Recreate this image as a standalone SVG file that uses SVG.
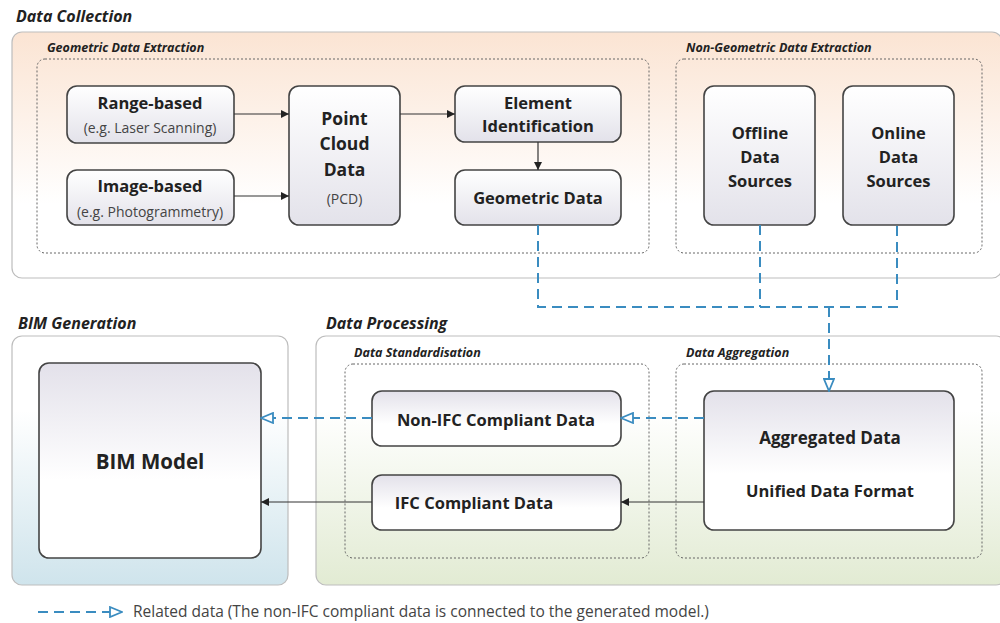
<svg xmlns="http://www.w3.org/2000/svg" width="1000" height="623" viewBox="0 0 1000 623">
<defs>
<linearGradient id="gPeach" x1="0" y1="0" x2="0" y2="1"><stop offset="0" stop-color="#fbe4d3"/><stop offset="0.7" stop-color="#ffffff"/><stop offset="1" stop-color="#ffffff"/></linearGradient>
<linearGradient id="gBlue" x1="0" y1="0" x2="0" y2="1"><stop offset="0" stop-color="#ffffff"/><stop offset="0.3" stop-color="#ffffff"/><stop offset="1" stop-color="#cfe4ec"/></linearGradient>
<linearGradient id="gGreen" x1="0" y1="0" x2="0" y2="1"><stop offset="0" stop-color="#ffffff"/><stop offset="0.3" stop-color="#ffffff"/><stop offset="1" stop-color="#e2ebd3"/></linearGradient>
<linearGradient id="gNodeUp" x1="0" y1="0" x2="0" y2="1"><stop offset="0" stop-color="#ffffff"/><stop offset="1" stop-color="#e3e2ea"/></linearGradient>
<linearGradient id="gNodeDown" x1="0" y1="0" x2="0" y2="1"><stop offset="0" stop-color="#e3e1ea"/><stop offset="0.6" stop-color="#ffffff"/><stop offset="1" stop-color="#ffffff"/></linearGradient>
<marker id="aSolid" viewBox="0 0 10 10" refX="10" refY="5" markerWidth="8" markerHeight="8" markerUnits="userSpaceOnUse" orient="auto"><path d="M0,0 L10,5 L0,10 z" fill="#222"/></marker>
<marker id="aHollow" viewBox="0 0 14 12" refX="13" refY="6" markerWidth="14" markerHeight="12" markerUnits="userSpaceOnUse" orient="auto"><path d="M1,1 L13,6 L1,11 z" fill="#ffffff" stroke="#3a8cc0" stroke-width="1.8"/></marker>
<style>
.sec{stroke:#bdbdbd;stroke-width:1.2}
.grp{fill:none;stroke:#666;stroke-width:1;stroke-dasharray:2 2}
.node{stroke:#444;stroke-width:1.6}
.up{fill:url(#gNodeUp)}
.down{fill:url(#gNodeDown)}
.title{font-family:"Open Sans",sans-serif;font-weight:bold;font-style:italic;font-size:16px;fill:#222}
.glab{font-family:"Open Sans",sans-serif;font-weight:bold;font-style:italic;font-size:12.5px;fill:#222}
.t{font-family:"Open Sans",sans-serif;font-weight:bold;font-size:16.5px;fill:#222;text-anchor:middle}
.b{font-size:17.5px}
.s{font-family:"Open Sans",sans-serif;font-size:14px;fill:#444;text-anchor:middle}
.solid{stroke:#333;stroke-width:1.2;fill:none}
.dash{stroke:#3a8cc0;stroke-width:2;fill:none;stroke-dasharray:10 6}
</style>
</defs>
<rect width="1000" height="623" fill="#ffffff"/>

<g id="data-collection">
<text class="title" x="16" y="22">Data Collection</text>
<rect class="sec" x="12" y="32" width="990" height="246" rx="10" fill="url(#gPeach)"/>
</g>
<g id="geometric-extraction">
<rect class="grp" x="37" y="59" width="612" height="194" rx="8"/>
<text class="glab" x="47" y="52">Geometric Data Extraction</text>
</g>
<g id="non-geometric-extraction">
<rect class="grp" x="676" y="59" width="306" height="194" rx="8"/>
<text class="glab" x="686" y="52">Non-Geometric Data Extraction</text>
</g>

<g id="bim-generation">
<text class="title" x="18" y="329">BIM Generation</text>
<rect class="sec" x="12" y="336" width="276" height="249" rx="10" fill="url(#gBlue)"/>
</g>
<g id="data-processing">
<text class="title" x="326" y="329">Data Processing</text>
<rect class="sec" x="316" y="336" width="690" height="249" rx="10" fill="url(#gGreen)"/>
</g>
<g id="data-standardisation">
<rect class="grp" x="345" y="364" width="304" height="194" rx="8"/>
<text class="glab" x="354" y="357">Data Standardisation</text>
</g>
<g id="data-aggregation">
<rect class="grp" x="676" y="364" width="306" height="194" rx="8"/>
<text class="glab" x="686" y="357">Data Aggregation</text>
</g>

<g id="range-based">
<rect class="node up" x="67" y="86" width="167" height="57" rx="10"/>
<text class="t" x="150" y="109">Range-based</text>
<text class="s" x="150" y="133">(e.g. Laser Scanning)</text>
</g>
<g id="image-based">
<rect class="node up" x="67" y="170" width="167" height="55" rx="10"/>
<text class="t" x="150" y="192">Image-based</text>
<text class="s" x="150" y="217">(e.g. Photogrammetry)</text>
</g>
<g id="point-cloud">
<rect class="node up" x="289" y="86" width="111" height="139" rx="10"/>
<text class="t b" x="344.5" y="125">Point</text>
<text class="t b" x="344.5" y="150">Cloud</text>
<text class="t b" x="344.5" y="176">Data</text>
<text class="s" x="344.5" y="204">(PCD)</text>
</g>
<g id="element-identification">
<rect class="node up" x="455" y="86" width="166" height="56" rx="10"/>
<text class="t" x="538" y="109">Element</text>
<text class="t" x="538" y="132">Identification</text>
</g>
<g id="geometric-data">
<rect class="node up" x="455" y="170" width="166" height="55" rx="10"/>
<text class="t" x="538" y="204">Geometric Data</text>
</g>
<g id="offline-sources">
<rect class="node up" x="704" y="86" width="111" height="139" rx="10"/>
<text class="t" x="760" y="139">Offline</text>
<text class="t" x="760" y="163">Data</text>
<text class="t" x="760" y="187">Sources</text>
</g>
<g id="online-sources">
<rect class="node up" x="843" y="86" width="111" height="139" rx="10"/>
<text class="t" x="898.5" y="139">Online</text>
<text class="t" x="898.5" y="163">Data</text>
<text class="t" x="898.5" y="187">Sources</text>
</g>
<g id="bim-model">
<rect class="node down" x="39" y="363" width="222" height="195" rx="10"/>
<text class="t" x="150" y="469" style="font-size:20.5px">BIM Model</text>
</g>
<g id="non-ifc">
<rect class="node down" x="372" y="391" width="249" height="55" rx="10"/>
<text class="t" x="496" y="426">Non-IFC Compliant Data</text>
</g>
<g id="ifc">
<rect class="node down" x="372" y="475" width="249" height="55" rx="10"/>
<text class="t" x="474" y="509">IFC Compliant Data</text>
</g>
<g id="aggregated">
<rect class="node down" x="704" y="391" width="250" height="139" rx="10"/>
<text class="t" x="830" y="444" style="font-size:17px">Aggregated Data</text>
<text class="t" x="830" y="497">Unified Data Format</text>
</g>

<g id="connectors">
<line class="solid" x1="234" y1="114" x2="289" y2="114" marker-end="url(#aSolid)"/>
<line class="solid" x1="234" y1="196" x2="289" y2="196" marker-end="url(#aSolid)"/>
<line class="solid" x1="400" y1="114" x2="455" y2="114" marker-end="url(#aSolid)"/>
<line class="solid" x1="538" y1="142" x2="538" y2="170" marker-end="url(#aSolid)"/>
<polyline class="dash" points="538,225 538,307 897,307 897,225"/>
<line class="dash" x1="760" y1="225" x2="760" y2="307"/>
<line class="dash" x1="829" y1="307" x2="829" y2="391" marker-end="url(#aHollow)"/>
<line class="dash" x1="704" y1="418" x2="621" y2="418" marker-end="url(#aHollow)"/>
<line class="solid" x1="704" y1="502" x2="621" y2="502" marker-end="url(#aSolid)"/>
<line class="dash" x1="372" y1="418" x2="261" y2="418" marker-end="url(#aHollow)"/>
<line class="solid" x1="372" y1="502" x2="261" y2="502" marker-end="url(#aSolid)"/>
</g>

<g id="legend">
<line class="dash" x1="38" y1="612" x2="122" y2="612" marker-end="url(#aHollow)"/>
<text x="133" y="617" style="font-family:'Open Sans',sans-serif;font-size:15.5px;fill:#444">Related data (The non-IFC compliant data is connected to the generated model.)</text>
</g>
</svg>
